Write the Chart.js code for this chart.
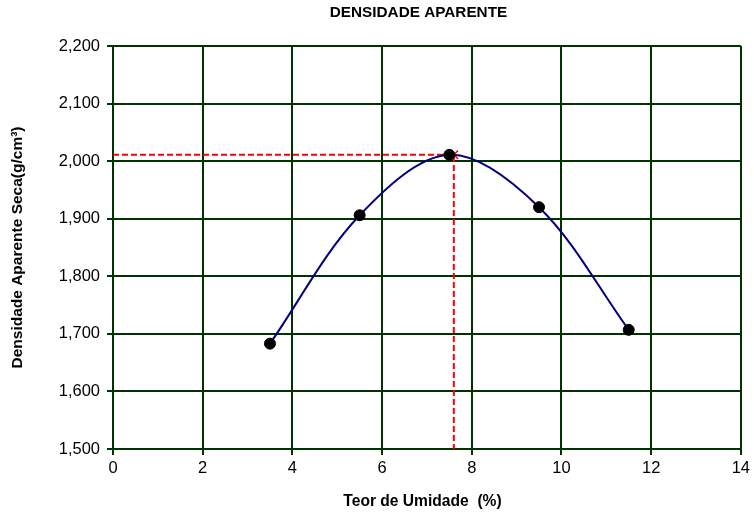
<!DOCTYPE html>
<html>
<head>
<meta charset="utf-8">
<script src="https://cdn.jsdelivr.net/npm/chart.js@4/dist/chart.umd.min.js"></script>
<style>
  html, body { margin: 0; padding: 0; background: #fff; }
  #wrap { width: 754px; height: 517px; }
</style>
</head>
<body>
<div id="wrap"><canvas id="densChart" width="754" height="517"></canvas></div>
<script>
// moisture content (%) and dry density (g/cm3)
const umidade = [3.5, 5.5, 7.5, 9.5, 11.5];
const densidade = [1.683, 1.906, 2.011, 1.920, 1.707];

// optimum point
const umidadeOtima = 7.6;
const densidadeMax = 2.011;

const xTicks = [0, 2, 4, 6, 8, 10, 12, 14];
const yTicks = [1.5, 1.6, 1.7, 1.8, 1.9, 2.0, 2.1, 2.2];

const pontos = umidade.map((u, i) => ({ x: u, y: densidade[i] }));
const fonte = "'Liberation Sans', Arial, sans-serif";

// title and x axis title drawn at fixed spots, like the original sheet
const titlePlugin = {
    id: "sheetTitles",
    afterDraw(chart) {
        const c = chart.ctx;
        c.save();
        c.fillStyle = "#000";
        c.textAlign = "center";
        c.textBaseline = "middle";
        c.font = "bold 15.3px " + fonte;
        c.fillText("DENSIDADE APARENTE", 418.5, 13);
        c.font = "bold 15.6px " + fonte;
        c.fillText("Teor de Umidade  (%)", 422.5, 502);
        c.restore();
    }
};

const ctx = document.getElementById("densChart").getContext("2d");
new Chart(ctx, {
    type: "scatter",
    data: {
        datasets: [
            {
                // optimum marker
                data: [{ x: umidadeOtima, y: densidadeMax }],
                pointStyle: "crossRot",
                pointRadius: 6,
                borderColor: "#ff0000",
                borderWidth: 1.5,
                order: 3
            },
            {
                data: pontos,
                pointRadius: 5.5,
                pointBackgroundColor: "#000",
                pointBorderColor: "#000",
                showLine: false,
                order: 1
            },
            {
                data: pontos,
                showLine: true,
                tension: 0.34,
                pointRadius: 0,
                borderColor: "#000080",
                borderWidth: 2,
                order: 2
            },
            {
                data: [{ x: 0, y: densidadeMax }, { x: umidadeOtima, y: densidadeMax }, { x: umidadeOtima, y: 1.5 }],
                showLine: true,
                pointRadius: 0,
                borderColor: "#ff0000",
                borderWidth: 2,
                borderDash: [6, 3],
                order: 4
            }
        ]
    },
    options: {
        responsive: false,
        animation: false,
        layout: { padding: { top: 46, right: 10, left: 0, bottom: 0 } },
        plugins: {
            legend: { display: false },
            tooltip: { enabled: false }
        },
        scales: {
            x: {
                type: "linear",
                min: 0,
                max: 14,
                afterBuildTicks: axis => { axis.ticks = xTicks.map(v => ({ value: v })); },
                afterFit: axis => { axis.height = 68; },
                grid: { color: "#003300", lineWidth: 2, tickLength: 6 },
                border: { color: "#003300", width: 2 },
                ticks: {
                    color: "#000",
                    padding: 4,
                    maxRotation: 0,
                    font: { family: fonte, size: 16.5 }
                }
            },
            y: {
                type: "linear",
                min: 1.5,
                max: 2.2,
                afterBuildTicks: axis => { axis.ticks = yTicks.map(v => ({ value: v })); },
                afterFit: axis => { axis.width = 113; },
                grid: { color: "#003300", lineWidth: 2, tickLength: 6 },
                border: { color: "#003300", width: 2 },
                ticks: {
                    color: "#000",
                    padding: 7,
                    font: { family: fonte, size: 16.5 },
                    callback: v => v.toFixed(3).replace(".", ",")
                },
                title: {
                    display: true,
                    text: "Densidade Aparente Seca(g/cm³)",
                    color: "#000",
                    padding: { top: 8, bottom: 0 },
                    font: { family: fonte, size: 15.5, weight: "bold" }
                }
            }
        }
    },
    plugins: [titlePlugin]
});
</script>
</body>
</html>
